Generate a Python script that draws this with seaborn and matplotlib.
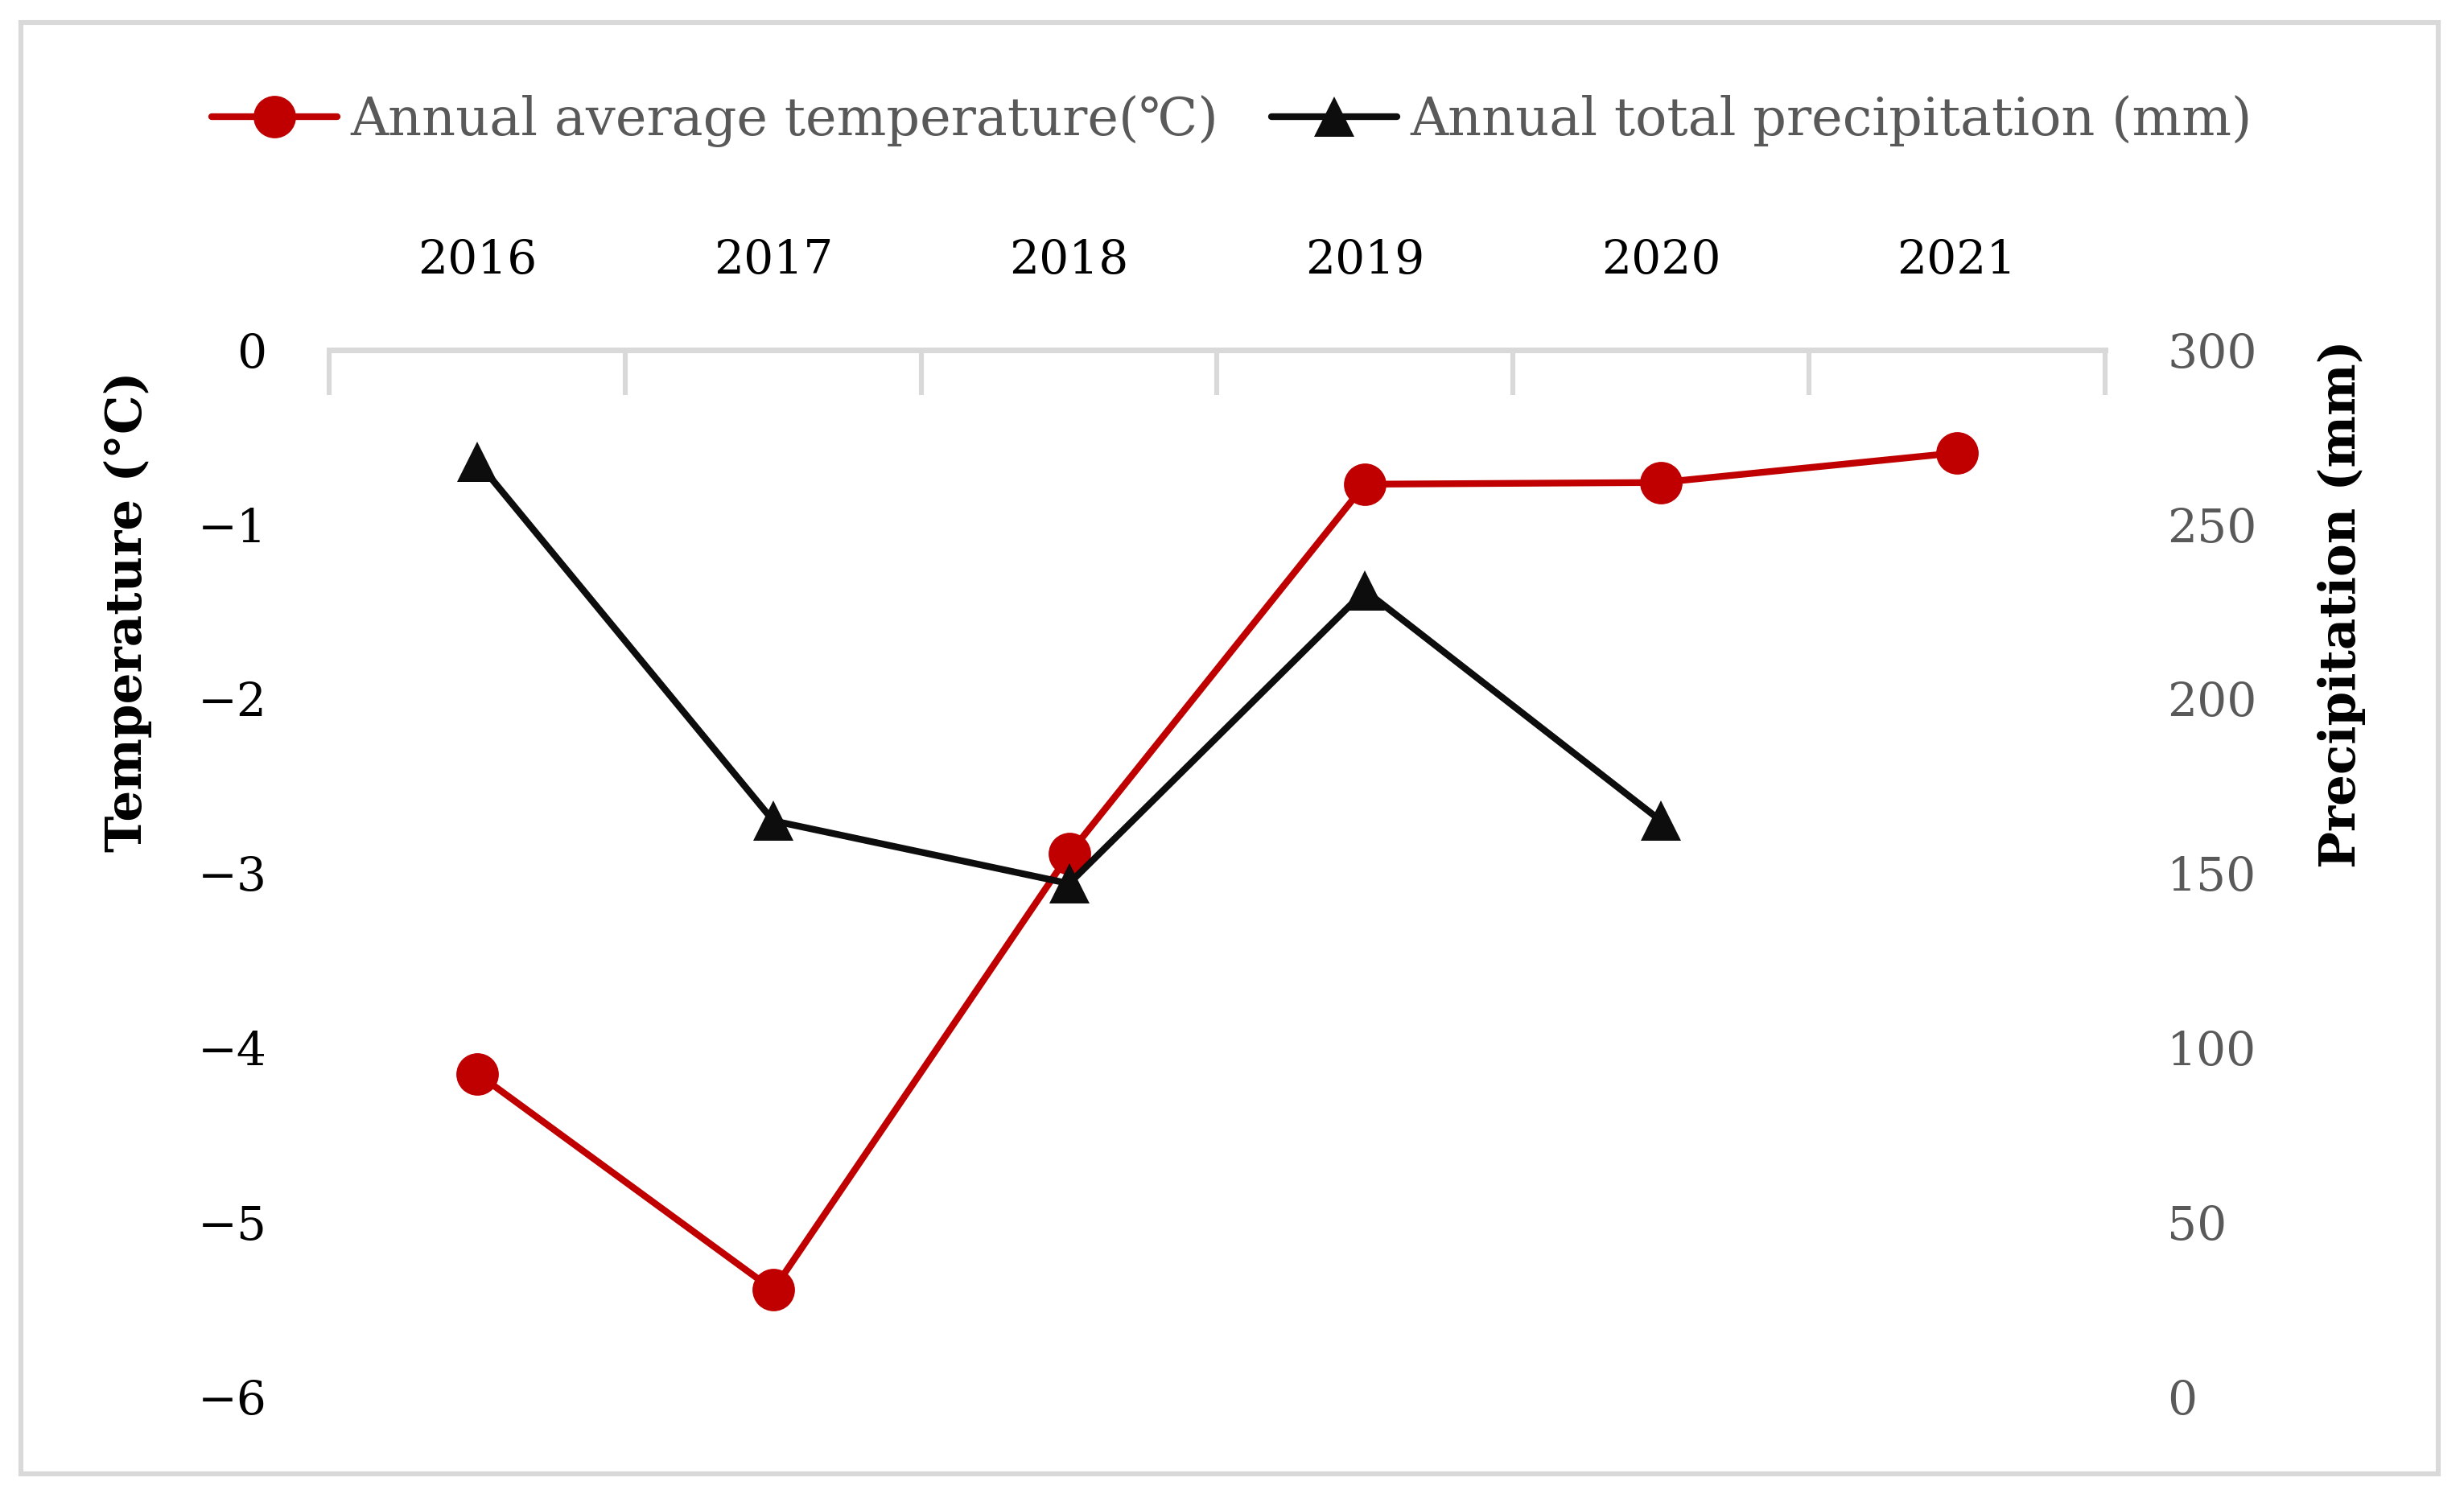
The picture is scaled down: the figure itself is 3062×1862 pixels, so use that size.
import matplotlib
matplotlib.use("Agg")
import matplotlib.pyplot as plt
import seaborn as sns
import pandas as pd
from matplotlib.patches import Rectangle

# ── Data ──────────────────────────────────────────────────────────────────────
YEARS = ["2016", "2017", "2018", "2019", "2020", "2021"]
TEMP = [-4.15, -5.39, -2.89, -0.77, -0.76, -0.59]
PRECIP = [268, 165, 147, 231, 165, None]

RED = "#C00000"
BLACK = "#0d0d0d"
GRAY = "#595959"
LIGHT = "#d9d9d9"

sns.set_theme(style="white")
plt.rcParams["font.family"] = ["DejaVu Serif"]

df = pd.DataFrame({"pos": range(len(YEARS)), "year": YEARS,
                   "temp": TEMP, "precip": PRECIP})

fig = plt.figure(figsize=(15.31, 9.31), dpi=200)
ax = fig.add_axes([0.1337, 0.0679, 0.7205, 0.6985])
ax2 = ax.twinx()

LW, MS = 3.0, 19
sns.lineplot(data=df, x="pos", y="temp", ax=ax, color=RED, lw=LW,
             marker="o", markersize=MS, markeredgewidth=0, label=None)
sns.lineplot(data=df.dropna(), x="pos", y="precip", ax=ax2, color=BLACK, lw=LW,
             marker="^", markersize=MS - 1, markeredgewidth=0, label=None)

ax.set_xlim(-0.5, len(YEARS) - 0.5)
ax.set_ylim(-6, 0)
ax2.set_ylim(0, 300)
ax.set_yticks(range(-6, 1))
ax2.set_yticks(range(0, 301, 50))

# years on top, boundary ticks pointing down
ax.xaxis.tick_top()
ax.set_xticks(range(len(YEARS)))
ax.set_xticklabels(YEARS, fontsize=21, color="black")
ax.set_xticks([i - 0.5 for i in range(len(YEARS) + 1)], minor=True)
ax.tick_params(axis="x", which="major", length=0, pad=30)
ax.tick_params(axis="x", which="minor", direction="in", length=20,
               width=2.2, color=LIGHT, top=True, bottom=False)
ax.tick_params(axis="y", length=0, pad=28, labelsize=21, labelcolor="black")
ax2.tick_params(axis="y", length=0, pad=28, labelsize=21, labelcolor=GRAY)

for a in (ax, ax2):
    for side in ("left", "right", "bottom"):
        a.spines[side].set_visible(False)
    a.spines["top"].set_color(LIGHT)
    a.spines["top"].set_linewidth(2.5)
    a.set_xlabel("")
    a.grid(False)

ax.set_ylabel("Temperature (°C)", fontsize=22, fontweight="bold", color="black")
ax.yaxis.set_label_coords(-0.1, 0.75)
ax2.set_ylabel("Precipitation (mm)", fontsize=22, fontweight="bold", color="black",
               rotation=90)
ax2.yaxis.set_label_coords(1.12, 0.757)

# legend
h1, = ax.plot([], [], color=RED, lw=LW, marker="o", markersize=MS, markeredgewidth=0)
h2, = ax.plot([], [], color=BLACK, lw=LW, marker="^", markersize=MS - 1, markeredgewidth=0)
leg = fig.legend([h1, h2], ["Annual average temperature(℃)", "Annual total precipitation (mm)"],
                 loc="center", bbox_to_anchor=(0.5, 0.919), ncol=2, frameon=False,
                 fontsize=23.5, handlelength=2.4, handletextpad=0.25, columnspacing=1.0)
for t in leg.get_texts():
    t.set_color(GRAY)

# outer frame
fig.patches.append(Rectangle((0.0085, 0.016), 0.981, 0.969, transform=fig.transFigure,
                             fill=False, edgecolor=LIGHT, linewidth=2.2))

fig.savefig("out.png", dpi=200)
